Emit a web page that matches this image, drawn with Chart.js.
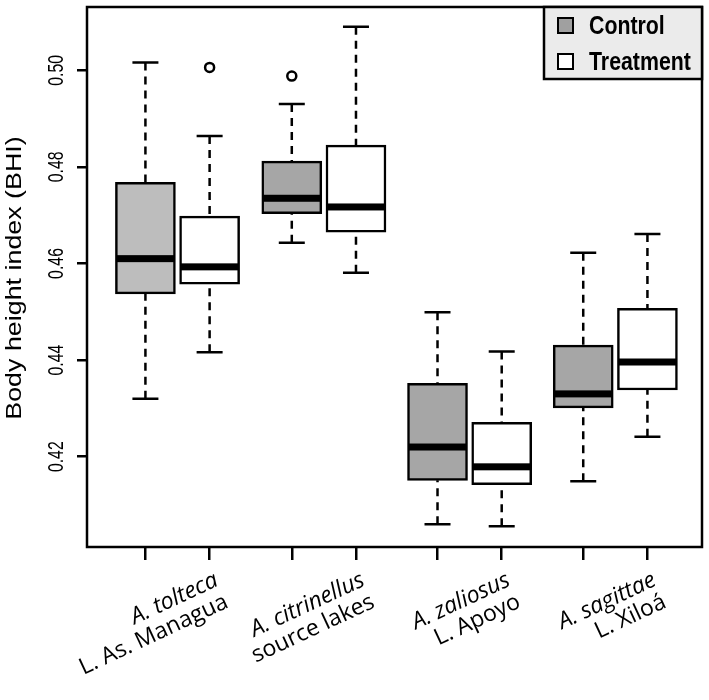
<!DOCTYPE html>
<html>
<head>
<meta charset="utf-8">
<script src="https://cdn.jsdelivr.net/npm/chart.js@4.4.1/dist/chart.umd.min.js"></script>
<style>
  html, body { margin: 0; padding: 0; background: #fff; }
  #wrap { position: relative; width: 709px; height: 700px; }
  canvas { display: block; }
  #xLabels { position: absolute; left: 0; top: 0; pointer-events: none; }
</style>
</head>
<body>
<div id="wrap">
  <canvas id="bhiChart" width="709" height="700"></canvas>
  <svg id="xLabels" width="709" height="700" xmlns="http://www.w3.org/2000/svg"></svg>
</div>
<script>
// groups (species / lake)
const species = ['A. tolteca', 'A. citrinellus', 'A. zaliosus', 'A. sagittae'];
const lakes = ['L. As. Managua', 'source lakes', 'L. Apoyo', 'L. Xiloá'];

// box positions on the x axis
const controlPos = [1, 3.28, 5.55, 7.82];
const treatPos = [2, 4.28, 6.55, 8.82];

// control boxes
const controlMin = [0.4320, 0.4643, 0.4060, 0.4149];
const controlQ1 = [0.4537, 0.4703, 0.4151, 0.4301];
const controlMed = [0.4610, 0.4735, 0.4220, 0.4330];
const controlQ3 = [0.4768, 0.4812, 0.4352, 0.4431];
const controlMax = [0.5016, 0.4930, 0.4499, 0.4622];
const controlOut = [[], [0.4988], [], []];

// treatment boxes
const treatMin = [0.4416, 0.4581, 0.4056, 0.4241];
const treatQ1 = [0.4557, 0.4665, 0.4142, 0.4338];
const treatMed = [0.4593, 0.4717, 0.4179, 0.4396];
const treatQ3 = [0.4698, 0.4845, 0.4271, 0.4507];
const treatMax = [0.4864, 0.5090, 0.4418, 0.4661];
const treatOut = [[0.5006], [], [], []];

const yTicks = [0.42, 0.44, 0.46, 0.48, 0.50];
const yTickLabels = ['0.42', '0.44', '0.46', '0.48', '0.50'];
const yTitle = 'Body height index (BHI)';

const controlFill = ['#bdbdbd', '#a6a6a6', '#a6a6a6', '#a6a6a6'];
const treatFill = '#ffffff';

const boxSets = [
  { pos: controlPos, min: controlMin, q1: controlQ1, med: controlMed, q3: controlQ3, max: controlMax },
  { pos: treatPos, min: treatMin, q1: treatQ1, med: treatMed, q3: treatQ3, max: treatMax },
];

const outlierPoints = [];
controlOut.forEach((arr, i) => arr.forEach(v => outlierPoints.push({ x: controlPos[i], y: v })));
treatOut.forEach((arr, i) => arr.forEach(v => outlierPoints.push({ x: treatPos[i], y: v })));

const LW = 2.5;

// whiskers, caps, medians, frame, y labels and legend
const boxPlugin = {
  id: 'boxParts',
  afterDatasetsDraw(chart) {
    const { ctx, scales: { x, y } } = chart;
    ctx.save();
    ctx.strokeStyle = '#000';
    ctx.fillStyle = '#000';
    ctx.lineWidth = LW;
    ctx.lineCap = 'butt';
    boxSets.forEach(set => {
      set.pos.forEach((p, i) => {
        const px = x.getPixelForValue(p);
        const yMin = y.getPixelForValue(set.min[i]);
        const yQ1 = y.getPixelForValue(set.q1[i]);
        const yQ3 = y.getPixelForValue(set.q3[i]);
        const yMax = y.getPixelForValue(set.max[i]);
        const yMed = y.getPixelForValue(set.med[i]);
        // dashed whiskers, from the cap to the box
        ctx.setLineDash([8, 6]);
        ctx.beginPath();
        ctx.moveTo(px, yMin); ctx.lineTo(px, yQ1);
        ctx.moveTo(px, yMax); ctx.lineTo(px, yQ3);
        ctx.stroke();
        ctx.setLineDash([]);
        // caps
        ctx.beginPath();
        ctx.moveTo(px - 13, yMin); ctx.lineTo(px + 13, yMin);
        ctx.moveTo(px - 13, yMax); ctx.lineTo(px + 13, yMax);
        ctx.stroke();
        // median
        ctx.fillRect(px - 29, yMed - 3.5, 58, 7);
      });
    });
    ctx.restore();
  },
  afterDraw(chart) {
    const { ctx, chartArea: a, scales: { y } } = chart;
    ctx.save();
    // frame
    ctx.strokeStyle = '#000';
    ctx.lineWidth = LW;
    ctx.strokeRect(a.left, a.top, a.right - a.left, a.bottom - a.top);

    ctx.fillStyle = '#000';
    ctx.textBaseline = 'alphabetic';
    ctx.textAlign = 'left';

    // y title, vertical
    ctx.font = '22px "Liberation Sans", Arial, sans-serif';
    const tw = ctx.measureText(yTitle).width;
    ctx.save();
    ctx.translate(21, 278);
    ctx.rotate(-Math.PI / 2);
    ctx.scale(1.22, 1);
    ctx.fillText(yTitle, -tw / 2, 0);
    ctx.restore();

    // y tick labels, vertical
    ctx.font = '22px "Liberation Sans", Arial, sans-serif';
    yTicks.forEach((v, i) => {
      const py = y.getPixelForValue(v);
      const w = ctx.measureText(yTickLabels[i]).width;
      ctx.save();
      ctx.translate(63, py);
      ctx.rotate(-Math.PI / 2);
      ctx.scale(0.72, 1);
      ctx.fillText(yTickLabels[i], -w / 2, 0);
      ctx.restore();
    });

    // legend box in the top right corner
    const lw = 158, lh = 72;
    const lx = a.right - lw, ly = a.top;
    ctx.fillStyle = '#ebebeb';
    ctx.fillRect(lx, ly, lw, lh);
    ctx.strokeRect(lx, ly, lw, lh);
    const items = chart.data.datasets.filter(d => d.type === 'bar');
    ctx.font = 'bold 26px "Liberation Sans", Arial, sans-serif';
    items.forEach((d, k) => {
      const sy = ly + 11 + k * 36;
      ctx.fillStyle = k === 0 ? '#a0a0a0' : '#fff';
      ctx.fillRect(lx + 14, sy, 15, 15);
      ctx.lineWidth = 2;
      ctx.strokeRect(lx + 14, sy, 15, 15);
      ctx.fillStyle = '#000';
      ctx.save();
      ctx.translate(lx + 45, sy + 16);
      ctx.scale(0.82, 1);
      ctx.fillText(d.label, 0, 0);
      ctx.restore();
    });
    ctx.restore();
  }
};

const chart = new Chart(document.getElementById('bhiChart'), {
  type: 'bar',
  data: {
    datasets: [
      {
        type: 'bar',
        label: 'Control',
        data: controlPos.map((p, i) => ({ x: p, y: [controlQ1[i], controlQ3[i]] })),
        backgroundColor: controlFill,
        borderColor: '#000',
        borderWidth: LW,
        borderSkipped: false,
        barThickness: 60,
        grouped: false,
      },
      {
        type: 'bar',
        label: 'Treatment',
        data: treatPos.map((p, i) => ({ x: p, y: [treatQ1[i], treatQ3[i]] })),
        backgroundColor: treatFill,
        borderColor: '#000',
        borderWidth: LW,
        borderSkipped: false,
        barThickness: 60,
        grouped: false,
      },
      {
        type: 'scatter',
        label: 'outliers',
        data: outlierPoints,
        pointRadius: 4.5,
        pointBorderWidth: LW,
        pointBackgroundColor: '#fff',
        pointBorderColor: '#000',
      },
    ],
  },
  options: {
    responsive: false,
    animation: false,
    layout: { padding: { top: 2, right: 4, left: 0, bottom: 0 } },
    plugins: {
      legend: { display: false },
      tooltip: { enabled: false },
    },
    scales: {
      x: {
        type: 'linear',
        min: 0.09,
        max: 9.67,
        offset: false,
        grid: { offset: false, drawOnChartArea: false, drawTicks: true, tickLength: 13, color: '#000', lineWidth: LW },
        border: { display: false },
        ticks: { display: false },
        afterBuildTicks: s => { s.ticks = controlPos.concat(treatPos).map(v => ({ value: v })); },
        afterFit: s => { s.height = 153; },
      },
      y: {
        type: 'linear',
        min: 0.4013,
        max: 0.5131,
        grid: { drawOnChartArea: false, drawTicks: true, tickLength: 10, color: '#000', lineWidth: LW },
        border: { display: false },
        ticks: { display: false },
        afterBuildTicks: s => { s.ticks = yTicks.map(v => ({ value: v })); },
        afterFit: s => { s.width = 87; },
      },
    },
  },
  plugins: [boxPlugin],
});

// x group labels as svg text, turned 25 degrees, right ends aligned
const svgNS = 'http://www.w3.org/2000/svg';
const svg = document.getElementById('xLabels');
species.forEach((name, i) => {
  const xs = chart.scales.x;
  const cx = (xs.getPixelForValue(controlPos[i]) + xs.getPixelForValue(treatPos[i])) / 2;
  const ax = cx + 42, ay = 585;
  [[name, 0, 'italic'], [lakes[i], 24, 'normal']].forEach(([txt, dy, style]) => {
    const t = document.createElementNS(svgNS, 'text');
    t.setAttribute('x', ax);
    t.setAttribute('y', ay + dy);
    t.setAttribute('text-anchor', 'end');
    t.setAttribute('transform', `rotate(-25 ${ax} ${ay})`);
    t.setAttribute('font-family', 'Open Sans, sans-serif');
    t.setAttribute('font-size', '23');
    t.setAttribute('font-style', style);
    t.setAttribute('fill', '#000');
    t.textContent = txt;
    svg.appendChild(t);
  });
});
</script>
</body>
</html>
